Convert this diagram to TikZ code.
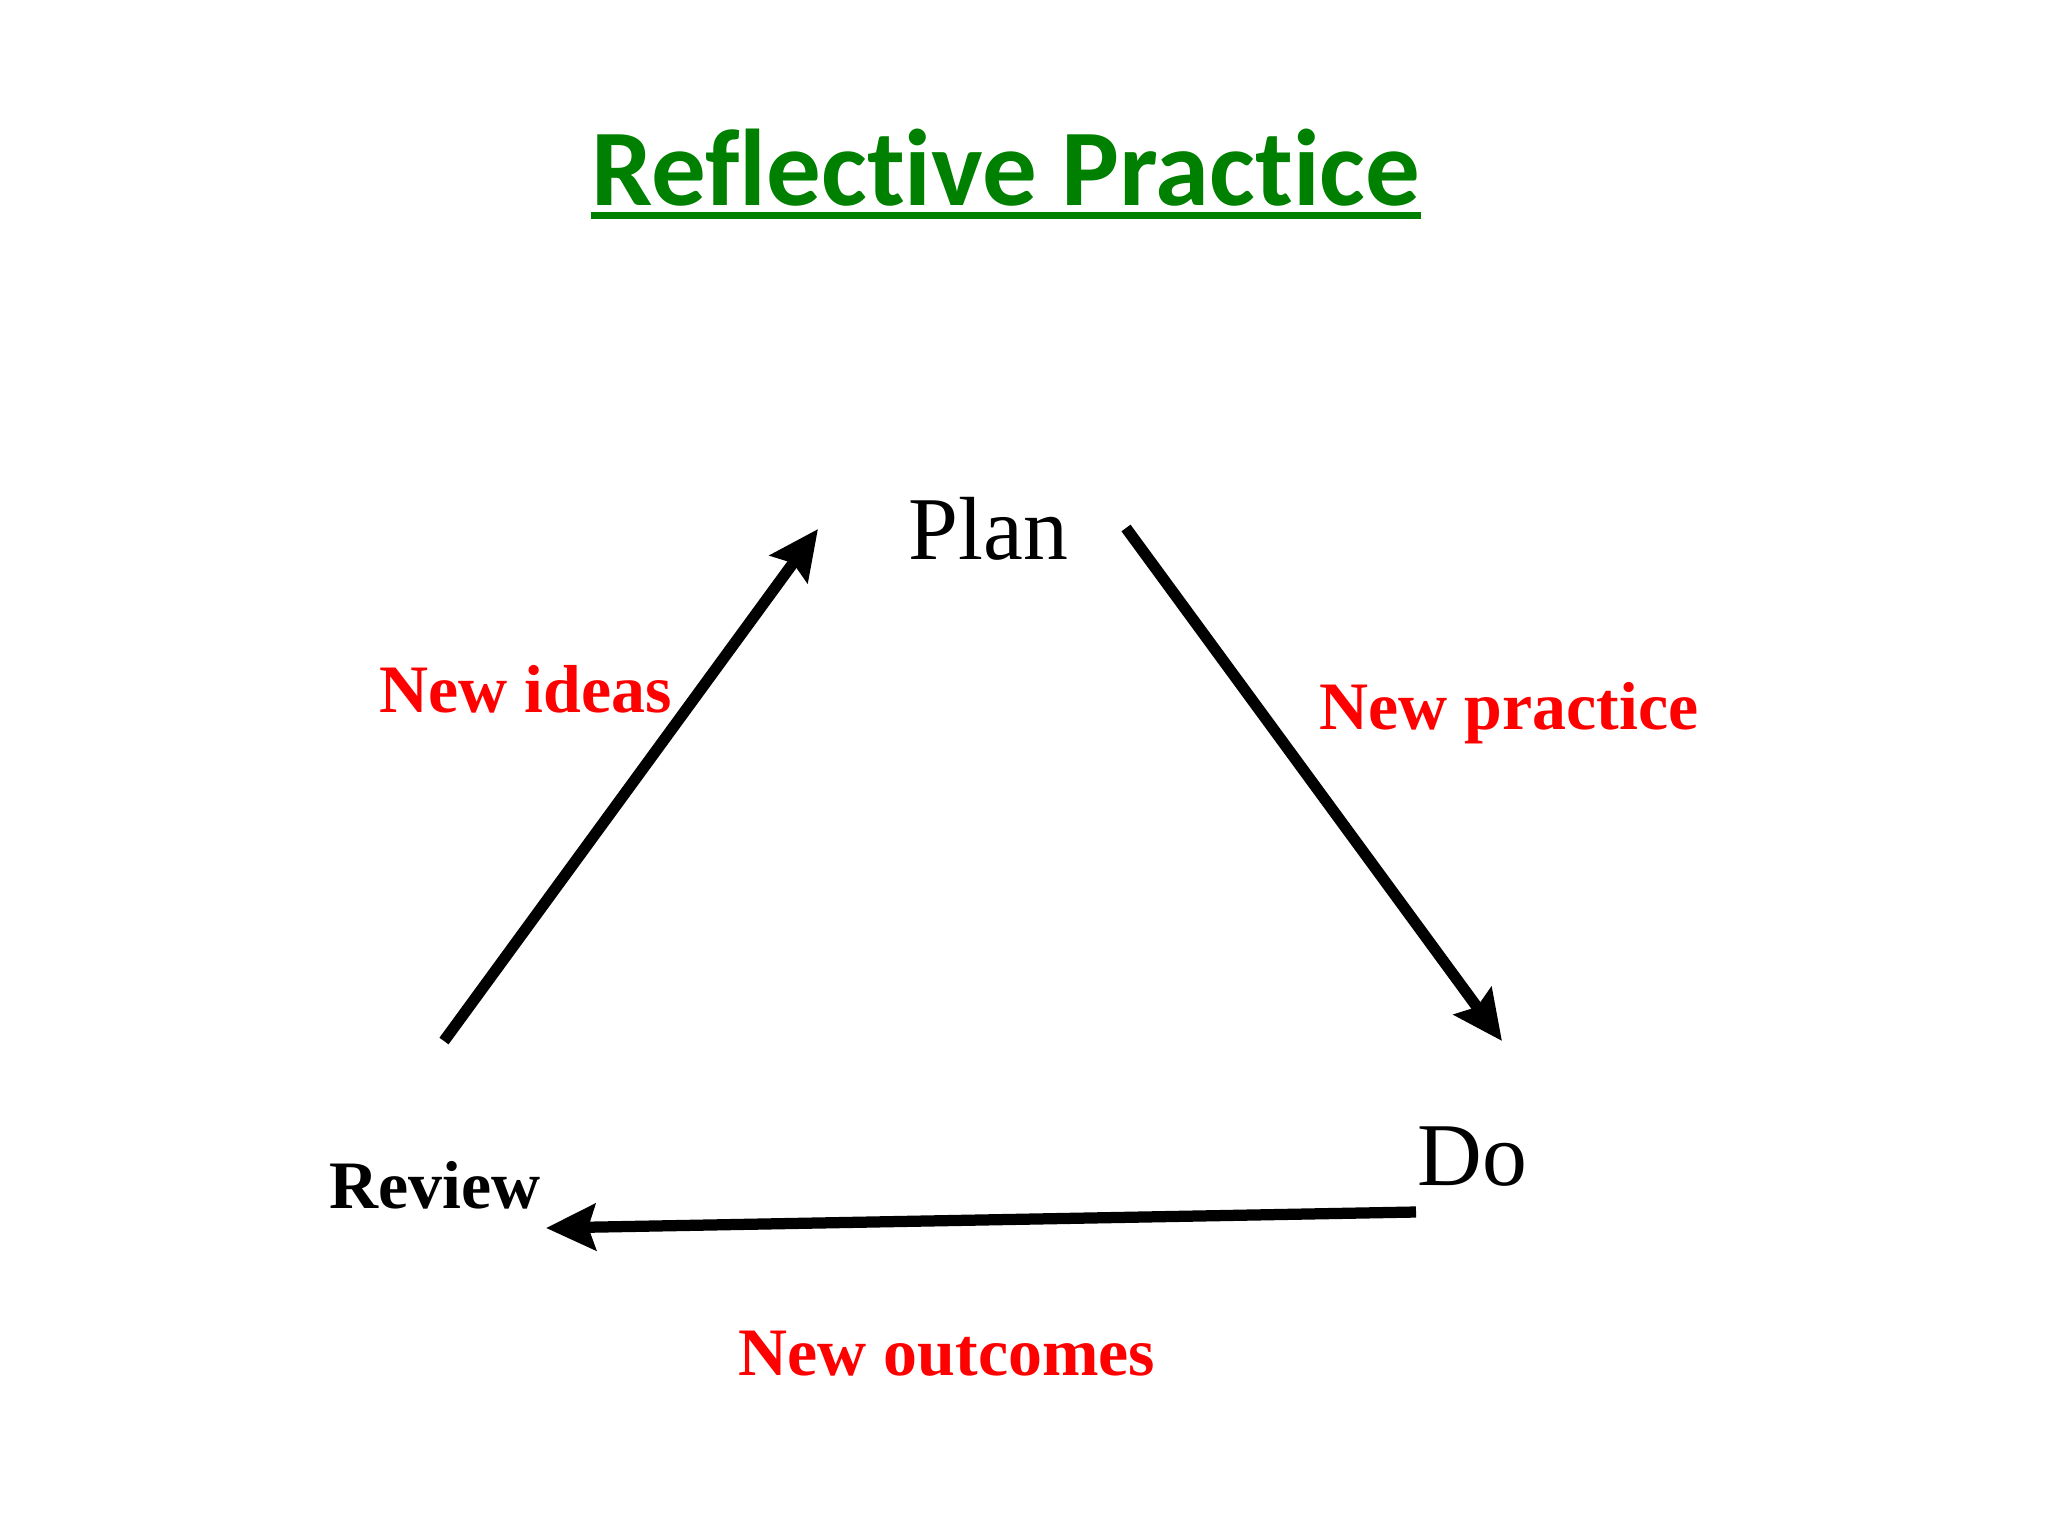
\documentclass[tikz,border=0pt]{standalone}
\usepackage{fontspec}
\setmainfont{Liberation Serif}
\newfontfamily\titlefont[RawFeature={-liga;-dlig}]{Carlito}
\usepackage{xcolor}
\usetikzlibrary{arrows.meta,positioning}
\definecolor{titlegreen}{RGB}{0,128,0}

\begin{document}
\begin{tikzpicture}[x=0.01cm,y=-0.01cm,
    stage/.style={inner sep=0pt,anchor=base west,font=\fontsize{25.5}{28}\selectfont},
    outcome/.style={inner sep=0pt,anchor=base west,text=red,font=\fontsize{19.3}{22}\selectfont\bfseries},
    cyclearrow/.style={line width=3.2pt,-{Stealth[length=14pt,width=13pt,inset=2pt]}}]
    \useasboundingbox (0,0) rectangle (2048,1536);
    % title
    \node[inner sep=0pt,anchor=base,text=titlegreen,font=\titlefont\fontsize{31}{34}\selectfont\bfseries] (title) at (1006,205) {Reflective Practice};
    \draw[titlegreen,line width=2pt] ([yshift=-3pt]title.base west) -- ([yshift=-3pt]title.base east);
    % stages
    \node[stage] (plan) at (908,559) {Plan};
    \node[stage] (do) at (1417,1185) {Do};
    \node[stage,font=\fontsize{19.3}{22}\selectfont\bfseries] (review) at (329,1208) {Review};
    % arrow ends
    \coordinate (revout) at (444,1041);
    \coordinate (planin) at (818,529);
    \coordinate (planout) at (1126,528);
    \coordinate (doin) at (1502,1041);
    \coordinate (doout) at (1416,1212);
    \coordinate (revin) at (546,1228);
    \draw[cyclearrow] (revout) -- (planin);
    \draw[cyclearrow] (planout) -- (doin);
    \draw[cyclearrow] (doout) -- (revin);
    % labels
    \node[outcome] (ideas) at (379,712) {New ideas};
    \node[outcome] (practice) at (1319,729) {New practice};
    \node[outcome] (outcomes) at (738,1375) {New outcomes};
\end{tikzpicture}
\end{document}
